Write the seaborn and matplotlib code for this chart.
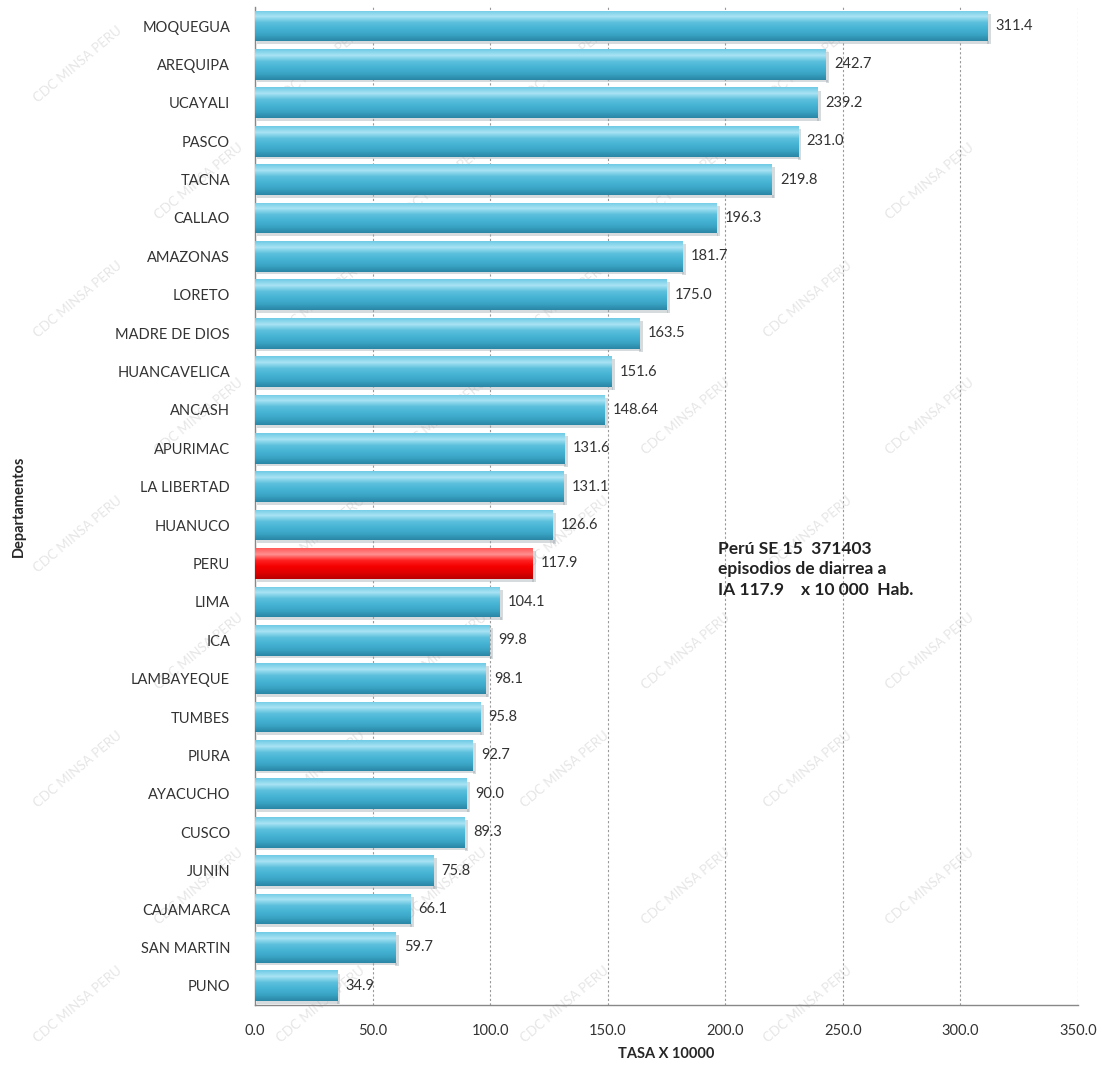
import numpy as np
import pandas as pd
import matplotlib
matplotlib.use("Agg")
import matplotlib.pyplot as plt
import seaborn as sns
from matplotlib.colors import LinearSegmentedColormap

departamentos = ["MOQUEGUA", "AREQUIPA", "UCAYALI", "PASCO", "TACNA", "CALLAO",
                 "AMAZONAS", "LORETO", "MADRE DE DIOS", "HUANCAVELICA", "ANCASH",
                 "APURIMAC", "LA LIBERTAD", "HUANUCO", "PERU", "LIMA", "ICA",
                 "LAMBAYEQUE", "TUMBES", "PIURA", "AYACUCHO", "CUSCO", "JUNIN",
                 "CAJAMARCA", "SAN MARTIN", "PUNO"]
tasas = [311.4, 242.7, 239.2, 231.0, 219.8, 196.3, 181.7, 175.0, 163.5, 151.6,
         148.64, 131.6, 131.1, 126.6, 117.9, 104.1, 99.8, 98.1, 95.8, 92.7,
         90.0, 89.3, 75.8, 66.1, 59.7, 34.9]
etiquetas = ["311.4", "242.7", "239.2", "231.0", "219.8", "196.3", "181.7", "175.0",
             "163.5", "151.6", "148.64", "131.6", "131.1", "126.6", "117.9", "104.1",
             "99.8", "98.1", "95.8", "92.7", "90.0", "89.3", "75.8", "66.1", "59.7", "34.9"]
x_ticks = [0, 50, 100, 150, 200, 250, 300, 350]
nota = "Perú SE 15  371403\nepisodios de diarrea a\nIA 117.9    x 10 000  Hab."

df = pd.DataFrame({"Departamento": departamentos, "Tasa": tasas})
df["Grupo"] = np.where(df["Departamento"] == "PERU", "pais", "dep")

sns.set_style("white")
plt.rcParams["font.family"] = ["Lato", "DejaVu Sans"]

fig = plt.figure(figsize=(11.07, 10.68), dpi=100)
ax = fig.add_axes([0.2304, 0.0590, 0.7434, 0.9346])
ax.set_zorder(1)
ax.patch.set_alpha(0)

# faint diagonal watermark text behind the chart
rows = np.arange(0.06, 0.97, 0.11)
for r, yy in enumerate(rows):
    shift = 0.11 if r % 2 else 0.0
    for xx in np.arange(0.07, 0.95, 0.22):
        fig.text(xx + shift, yy, "CDC MINSA PERU", rotation=40, fontsize=9.5,
                 color="#e6e6e6", ha="center", va="center", zorder=-5)

sns.barplot(data=df, x="Tasa", y="Departamento", hue="Grupo",
            palette={"dep": "#45b3d3", "pais": "#f40000"}, dodge=False,
            width=0.8, legend=False, ax=ax, zorder=3, edgecolor="none")

# vertical shading on each bar for a rounded look
blue_cm = LinearSegmentedColormap.from_list(
    "b", ["#6fcbe6", "#a9e3f3", "#5bc0dd", "#46b3d4", "#3aa4c5", "#2a86a5"])
red_cm = LinearSegmentedColormap.from_list(
    "r", ["#ff5a5a", "#ff9090", "#ff2020", "#f50000", "#e00000", "#b80000"])
grad = np.linspace(0, 1, 64).reshape(-1, 1)
for p in list(ax.patches):
    x0, y0 = p.get_x(), p.get_y()
    w, h = p.get_width(), p.get_height()
    if w <= 0:
        continue
    idx = int(round(y0 + h / 2))
    cm = red_cm if departamentos[idx] == "PERU" else blue_cm
    im = ax.imshow(grad, cmap=cm, aspect="auto", extent=(x0, x0 + w, y0 + h, y0),
                   zorder=4, interpolation="bilinear")
    im.set_clip_path(p)
    ax.add_patch(plt.Rectangle((x0 + w, y0 + 0.08), 1.4, h, color="#9aa6ad",
                               alpha=0.4, zorder=2, lw=0))
    ax.add_patch(plt.Rectangle((x0 + 0.8, y0 + h), w, 0.07, color="#9aa6ad",
                               alpha=0.4, zorder=2, lw=0))

for i, (v, lab) in enumerate(zip(tasas, etiquetas)):
    ax.text(v + 3.5, i, lab, va="center", ha="left", fontsize=10.5, color="#333333",
            zorder=6)

ax.set_xlim(0, 350)
ax.set_ylim(25.5, -0.5)
ax.set_xticks(x_ticks)
ax.set_xticklabels([f"{t:.1f}" for t in x_ticks], fontsize=10.5, color="#333333")
ax.tick_params(axis="y", labelsize=10.5, labelcolor="#333333", length=0, pad=18)
ax.tick_params(axis="x", length=5, color="#888888", pad=9)
ax.set_yticks(range(len(departamentos)))
ax.set_yticks(np.arange(-0.5, 26, 1), minor=True)
ax.tick_params(axis="y", which="minor", length=5, color="#888888")
ax.xaxis.grid(True, linestyle=(0, (2, 2)), color="#999999", linewidth=0.8, zorder=1)
ax.set_axisbelow(True)

for s in ["top", "right"]:
    ax.spines[s].set_visible(False)
for s in ["left", "bottom"]:
    ax.spines[s].set_color("#888888")
    ax.spines[s].set_linewidth(1.0)

ax.set_xlabel("TASA X 10000", fontsize=10.5, fontweight="bold", labelpad=6)
ax.set_ylabel("Departamentos", fontsize=10.5, fontweight="bold")
ax.yaxis.set_label_coords(-0.278, 0.5)

ax.text(197, 14.15, nota, fontsize=12.5, fontweight="bold", color="#222222",
        va="center", ha="left", linespacing=1.35, zorder=6)

fig.savefig("out.png", dpi=100)
